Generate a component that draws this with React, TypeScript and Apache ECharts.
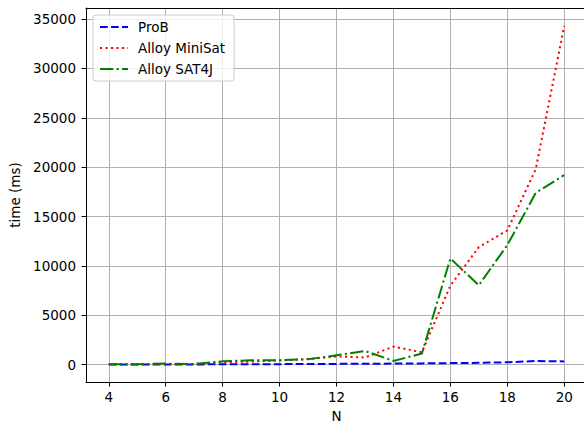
import React, { useEffect, useRef } from "react";
import * as echarts from "echarts";

const nValues = [4, 5, 6, 7, 8, 9, 10, 11, 12, 13, 14, 15, 16, 17, 18, 19, 20];
const probTimes = [5, 8, 12, 18, 25, 35, 45, 55, 70, 85, 100, 120, 150, 180, 230, 360, 320];
const miniSatTimes = [20, 30, 60, 70, 250, 300, 420, 560, 820, 720, 1820, 1250, 8000, 11900, 13600, 19800, 34300];
const sat4jTimes = [30, 40, 100, 60, 330, 440, 440, 540, 940, 1380, 370, 1120, 10750, 8040, 12100, 17400, 19200];
const xTicks = [4, 6, 8, 10, 12, 14, 16, 18, 20];
const yTicks = [0, 5000, 10000, 15000, 20000, 25000, 30000, 35000];
const seriesNames = ["ProB", "Alloy MiniSat", "Alloy SAT4J"];

const FONT = "DejaVu Sans";

export default function App() {
  const ref = useRef<HTMLDivElement>(null);
  useEffect(() => {
    if (!ref.current) return;
    const chart = echarts.init(ref.current, null, { renderer: "svg" });
    const pairs = (ys: number[]) => nValues.map((n, i) => [n, ys[i]]);
    const lineSeries = (name: string, ys: number[], color: string, dash: number[], z: number) => ({
      name,
      type: "line",
      data: pairs(ys),
      symbol: "none",
      showSymbol: false,
      z,
      lineStyle: { color, width: 2, type: dash, cap: "butt", join: "round" },
      itemStyle: { color },
    });
    chart.setOption({
      animation: false,
      backgroundColor: "#ffffff",
      textStyle: { fontFamily: FONT },
      grid: { left: 86, top: 8, right: -3, bottom: 41, containLabel: false, outerBoundsMode: "none" },
      legend: {
        left: 93,
        top: 15,
        orient: "vertical",
        itemWidth: 28,
        itemHeight: 14,
        itemGap: 7,
        padding: [5, 9, 5, 6],
        backgroundColor: "rgba(255,255,255,0.8)",
        borderColor: "#cccccc",
        borderWidth: 1,
        borderRadius: 3,
        data: seriesNames,
        itemStyle: { opacity: 0 },
        textStyle: { fontFamily: FONT, fontSize: 13.5, color: "#000", padding: [0, 0, 0, 5] },
      },
      xAxis: [
        {
          type: "value",
          min: 3.2,
          max: 20.8,
          name: "N",
          nameLocation: "middle",
          nameGap: 26,
          nameTextStyle: { fontFamily: FONT, fontSize: 13.5, color: "#000" },
          axisLine: { show: true, onZero: false, lineStyle: { color: "#000", width: 1 } },
          axisTick: { show: true, length: 4.5, inside: false, customValues: xTicks, lineStyle: { color: "#000" } },
          axisLabel: { customValues: xTicks, margin: 8, fontFamily: FONT, fontSize: 13.5, color: "#000" },
          splitLine: { show: true, lineStyle: { color: "#b0b0b0", width: 1 } },
        },
        {
          type: "value",
          position: "top",
          min: 3.2,
          max: 20.8,
          axisLine: { show: true, onZero: false, lineStyle: { color: "#000", width: 1 } },
          axisTick: { show: false },
          axisLabel: { show: false },
          splitLine: { show: false },
        },
      ],
      yAxis: [
        {
          type: "value",
          min: -1765,
          max: 36128,
          name: "time (ms)",
          nameLocation: "middle",
          nameGap: 62,
          nameTextStyle: { fontFamily: FONT, fontSize: 13.5, color: "#000" },
          axisLine: { show: true, onZero: false, lineStyle: { color: "#000", width: 1 } },
          axisTick: { show: true, length: 4.5, inside: false, customValues: yTicks, lineStyle: { color: "#000" } },
          axisLabel: {
            customValues: yTicks,
            margin: 10,
            fontFamily: FONT,
            fontSize: 13.5,
            color: "#000",
            formatter: (v: number) => String(Math.round(v)),
          },
          splitLine: { show: true, lineStyle: { color: "#b0b0b0", width: 1 } },
        },
        {
          type: "value",
          position: "right",
          min: -1765,
          max: 36128,
          axisLine: { show: true, onZero: false, lineStyle: { color: "#000", width: 1 } },
          axisTick: { show: false },
          axisLabel: { show: false },
          splitLine: { show: false },
        },
      ],
      series: [
        lineSeries(seriesNames[0], probTimes, "#0000ff", [7.7, 3.3], 3),
        lineSeries(seriesNames[1], miniSatTimes, "#ff0000", [2.1, 3.4], 4),
        lineSeries(seriesNames[2], sat4jTimes, "#008000", [13.3, 3.3, 2.1, 3.3], 5),
      ],
    });
    return () => chart.dispose();
  }, []);
  return (
    <div
      ref={ref}
      style={{ position: "fixed", left: 0, top: 0, width: 584, height: 423, background: "#fff" }}
    />
  );
}
